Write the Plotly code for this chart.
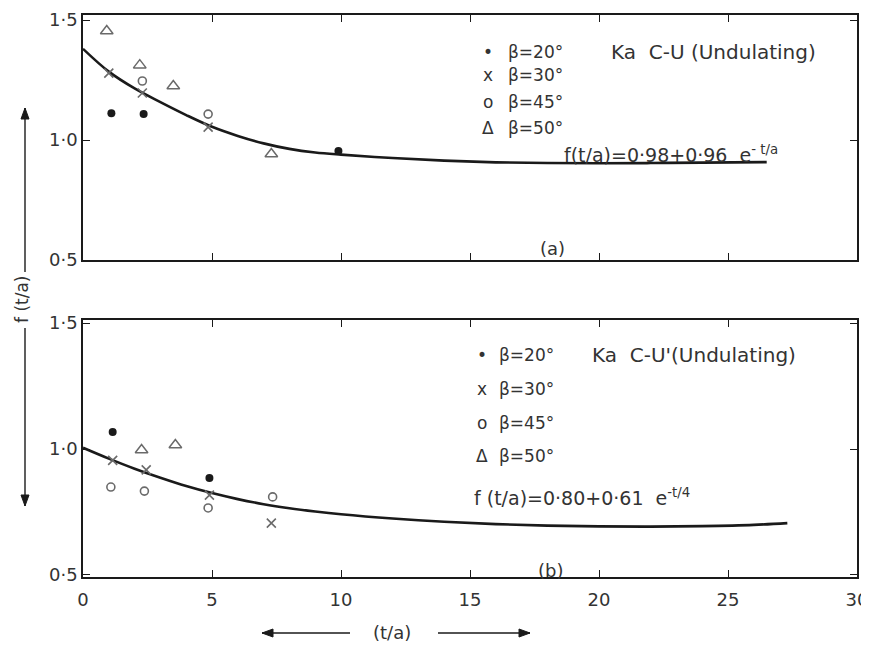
import plotly.graph_objects as go

# ---------------- data ----------------
# Panel (a)
a_b20_x = [1.1, 2.35, 9.9]
a_b20_y = [1.112, 1.108, 0.954]
a_b30_x = [1.0, 2.3, 4.85]
a_b30_y = [1.279, 1.196, 1.054]
a_b45_x = [2.3, 4.85]
a_b45_y = [1.246, 1.108]
a_b50_x = [0.92, 2.2, 3.5, 7.3]
a_b50_y = [1.454, 1.312, 1.225, 0.942]
a_curve_x = [0, 1, 2, 3, 4, 5, 6, 7, 8, 9, 10, 12, 14, 16, 18, 20, 22, 24, 26.5]
a_curve_y = [1.38, 1.285, 1.215, 1.158, 1.104, 1.055, 1.017, 0.986, 0.963, 0.948, 0.939,
             0.925, 0.914, 0.907, 0.904, 0.903, 0.904, 0.906, 0.908]

# Panel (b)
b_b20_x = [1.15, 4.9]
b_b20_y = [1.067, 0.885]
b_b30_x = [1.15, 2.45, 4.9, 7.3]
b_b30_y = [0.955, 0.917, 0.817, 0.706]
b_b45_x = [1.08, 2.38, 4.85, 7.35]
b_b45_y = [0.849, 0.833, 0.766, 0.81]
b_b50_x = [2.27, 3.58]
b_b50_y = [0.996, 1.016]
b_curve_x = [0, 1, 2, 3, 4, 5, 6, 7, 8, 9, 10, 12, 14, 16, 18, 20, 22, 24, 26, 27.3]
b_curve_y = [1.005, 0.962, 0.922, 0.886, 0.853, 0.825, 0.801, 0.781, 0.765, 0.752, 0.741,
             0.724, 0.711, 0.702, 0.696, 0.693, 0.692, 0.694, 0.699, 0.706]

x_ticks = [0, 5, 10, 15, 20, 25, 30]
x_tick_labels = ["0", "5", "10", "15", "20", "25", "30"]
y_ticks = [0.5, 1.0, 1.5]
y_tick_labels = ["0·5", "1·0", "1·5"]

# ---------------- figure ----------------
OFF = 8                     # page body margin of the browser
W, H = 869 - OFF, 647 - OFF
INK = "#1a1a1a"
GREY = "#6a6a6a"
TXT = "#333"
FONT = "DejaVu Sans"


def px(x):
    return (x - OFF) / W


def py(y):
    return 1 - (y - OFF) / H


fig = go.Figure()


def add_panel(xa, ya, b20x, b20y, b30x, b30y, b45x, b45y, b50x, b50y, cx, cy):
    fig.add_trace(go.Scatter(x=cx, y=cy, mode="lines", line=dict(color=INK, width=2.6, shape="spline"),
                             xaxis=xa, yaxis=ya, showlegend=False, hoverinfo="skip"))
    fig.add_trace(go.Scatter(x=b20x, y=b20y, mode="markers",
                             marker=dict(symbol="circle", size=8, color=INK),
                             xaxis=xa, yaxis=ya, showlegend=False))
    fig.add_trace(go.Scatter(x=b30x, y=b30y, mode="markers",
                             marker=dict(symbol="x-thin-open", size=9, color=GREY,
                                         line=dict(width=1.6, color=GREY)),
                             xaxis=xa, yaxis=ya, showlegend=False))
    fig.add_trace(go.Scatter(x=b45x, y=b45y, mode="markers",
                             marker=dict(symbol="circle-open", size=8, color=GREY,
                                         line=dict(width=1.6, color=GREY)),
                             xaxis=xa, yaxis=ya, showlegend=False))
    fig.add_trace(go.Scatter(x=b50x, y=b50y, mode="markers",
                             marker=dict(symbol="triangle-up-open", size=11, color=GREY,
                                         line=dict(width=1.5, color=GREY)),
                             xaxis=xa, yaxis=ya, showlegend=False))


add_panel("x", "y", a_b20_x, a_b20_y, a_b30_x, a_b30_y, a_b45_x, a_b45_y, a_b50_x, a_b50_y,
          a_curve_x, a_curve_y)
add_panel("x2", "y2", b_b20_x, b_b20_y, b_b30_x, b_b30_y, b_b45_x, b_b45_y, b_b50_x, b_b50_y,
          b_curve_x, b_curve_y)

axis_common = dict(showline=True, linecolor=INK, linewidth=1.6, mirror="ticks",
                   ticks="inside", ticklen=7, tickwidth=1.4, tickcolor=INK,
                   showgrid=False, zeroline=False, automargin=False,
                   ticklabeloverflow="allow",
                   tickfont=dict(family=FONT, size=18, color=TXT))

xdom = [px(83), px(857)]
fig.update_layout(
    width=W, height=H,
    margin=dict(l=0, r=0, t=0, b=0, pad=0),
    paper_bgcolor="white", plot_bgcolor="white",
    font=dict(family=FONT, color=TXT),
    xaxis=dict(domain=xdom, range=[0, 30], tickvals=x_ticks, showticklabels=False,
               anchor="y", **axis_common),
    yaxis=dict(domain=[py(260), py(15)], range=[0.5, 1.521], tickvals=y_ticks,
               ticktext=y_tick_labels, anchor="x", **axis_common),
    xaxis2=dict(domain=xdom, range=[0, 30], tickvals=x_ticks, ticktext=x_tick_labels,
                ticklabelstandoff=6, anchor="y2", **axis_common),
    yaxis2=dict(domain=[py(577), py(320)], range=[0.492, 1.512], tickvals=y_ticks,
                ticktext=y_tick_labels, anchor="x2", **axis_common),
)

ann = []


def text(x, y, s, anchor="left", size=17, angle=0):
    ann.append(dict(x=px(x), y=py(y), xref="paper", yref="paper", text=s, showarrow=False,
                    xanchor=anchor, yanchor="middle", textangle=angle,
                    font=dict(family=FONT, size=size, color=TXT)))


legend_labels = ["β=20°", "β=30°", "β=45°", "β=50°"]
legend_syms = ["•", "x", "o", "Δ"]

# legend (a)
for sym, lab, yy in zip(legend_syms, legend_labels, [52, 75, 102, 128]):
    text(488, yy, sym, anchor="center", size=17)
    text(506, yy, lab)
text(609, 52, "Ka  C-U (Undulating)", size=20)
text(562, 154, "f(t/a)=0·98+0·96  e<sup>- t/a</sup>", size=19)
text(552, 248, "(a)", anchor="center", size=18)

# legend (b)
for sym, lab, yy in zip(legend_syms, legend_labels, [355, 389, 423, 456]):
    text(482, yy, sym, anchor="center", size=17)
    text(497, yy, lab)
text(590, 355, "Ka  C-U'(Undulating)", size=20)
text(472, 497, "f (t/a)=0·80+0·61  e<sup>-t/4</sup>", size=19)
text(550, 570, "(b)", anchor="center", size=18)

# axis titles
text(22, 300, "f (t/a)", anchor="center", size=17, angle=-90)
text(392, 632, "(t/a)", anchor="center", size=18)

# arrows drawn as shapes (line + filled head)
shapes = []


def arrow(hx, hy, tx, ty):
    shapes.append(dict(type="line", xref="paper", yref="paper",
                       x0=px(tx), y0=py(ty), x1=px(hx), y1=py(hy),
                       line=dict(color=INK, width=1.4)))
    L, Wd = 11, 4
    if hx == tx:  # vertical
        d = 1 if hy < ty else -1
        pts = [(hx, hy), (hx - Wd, hy + d * L), (hx + Wd, hy + d * L)]
    else:
        d = 1 if hx < tx else -1
        pts = [(hx, hy), (hx + d * L, hy - Wd), (hx + d * L, hy + Wd)]
    path = "M {} {} L {} {} L {} {} Z".format(*[v for p in pts for v in (px(p[0]), py(p[1]))])
    shapes.append(dict(type="path", xref="paper", yref="paper", path=path,
                       fillcolor=INK, line=dict(color=INK, width=1)))


arrow(25, 108, 25, 272)
arrow(25, 506, 25, 328)
arrow(262, 633, 350, 633)
arrow(530, 633, 438, 633)

fig.update_layout(annotations=ann, shapes=shapes)
fig.write_html("out.html")
